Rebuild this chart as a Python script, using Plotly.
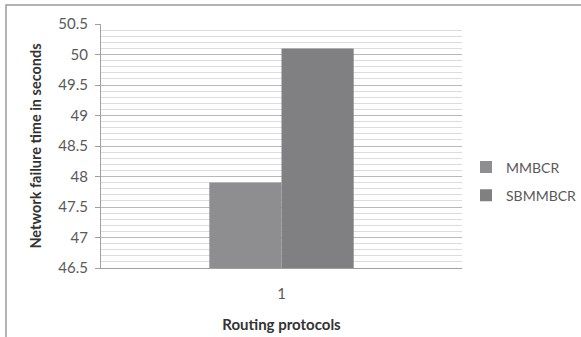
import plotly.graph_objects as go

categories = ["1"]
series_names = ["MMBCR", "SBMMBCR"]
mmbcr = [47.9]
sbmmbcr = [50.1]
colors = ["#8e8e90", "#808083"]
y_ticks = [46.5, 47, 47.5, 48, 48.5, 49, 49.5, 50, 50.5]

fig = go.Figure()
for name, vals, c in zip(series_names, [mmbcr, sbmmbcr], colors):
    fig.add_trace(go.Bar(x=categories, y=vals, name=name, legendgroup=name,
                         marker=dict(color=c, line=dict(width=0))))

W, H = 581, 337
L, R, T, B = 101, 119, 24, 69
pw, ph = W - L - R, H - T - B

fig.update_layout(
    width=W, height=H,
    margin=dict(l=L, r=R, t=T, b=B, autoexpand=False),
    paper_bgcolor="white", plot_bgcolor="white",
    barmode="group", bargap=0.6, bargroupgap=0,
    font=dict(family="Lato, Open Sans, sans-serif", color="#595959", size=15),
    showlegend=True,
    legend=dict(xref="container", yref="container", x=466 / W, y=1 - 181.5 / H,
                xanchor="left", yanchor="middle",
                font=dict(size=14, color="#595959"), itemwidth=30, tracegroupgap=7,
                bgcolor="rgba(0,0,0,0)"),
    xaxis=dict(type="category", showgrid=False, showline=True, linecolor="#a0a0a0", linewidth=1,
               ticks="", ticklabelstandoff=12,
               title=dict(text="<b>Routing protocols</b>", font=dict(size=15, color="#333333"), standoff=18)),
    yaxis=dict(range=[46.5, 50.5], tickvals=y_ticks, ticktext=[f"{v:g}" for v in y_ticks],
               showgrid=True, gridcolor="#b8b8b8", gridwidth=1,
               minor=dict(dtick=0.1, showgrid=True, gridcolor="#dcdcdc", gridwidth=1),
               showline=True, linecolor="#a0a0a0", linewidth=1, ticks="outside", ticklen=5,
               tickcolor="#a0a0a0", zeroline=False, ticklabelstandoff=4,
               title=dict(text="<b>Network failure time in seconds</b>", font=dict(size=14.5, color="#333333"), standoff=13)),
    shapes=[dict(type="rect", xref="paper", yref="paper",
                 x0=(6 - L) / pw, x1=(W + 10 - L) / pw, y0=-(B + 10) / ph, y1=1 + (T - 5) / ph,
                 line=dict(color="#9a9a9a", width=1.5), fillcolor="rgba(0,0,0,0)", layer="below")],
)
fig.write_html("out.html")
